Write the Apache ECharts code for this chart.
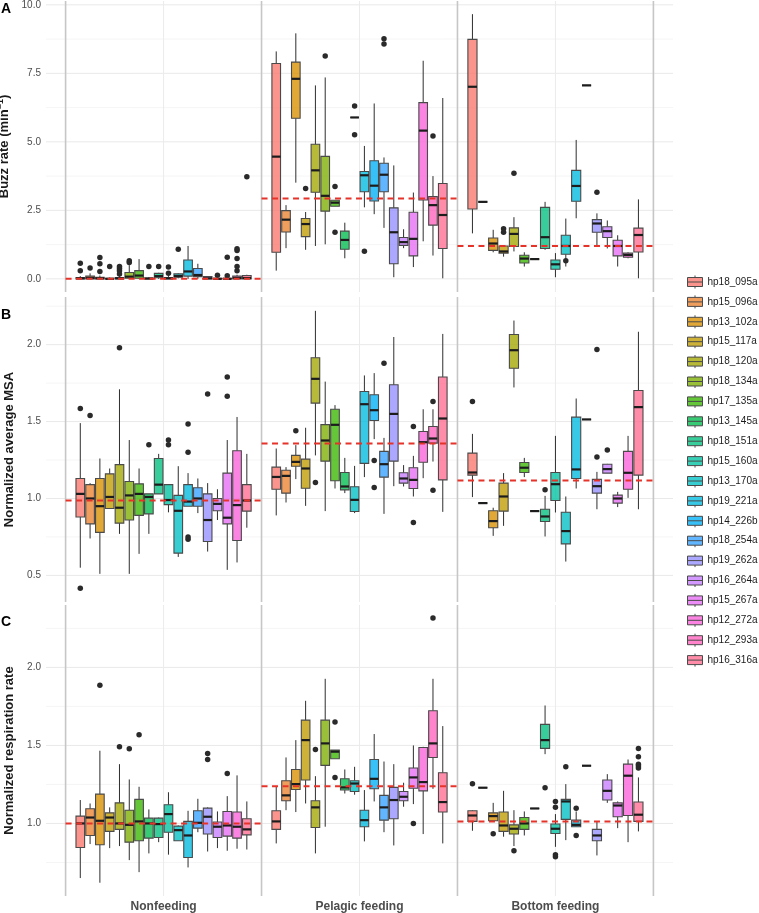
<!DOCTYPE html>
<html><head><meta charset="utf-8">
<script src="https://cdn.jsdelivr.net/npm/echarts@6/dist/echarts.min.js"></script>
<style>html,body{margin:0;padding:0;background:#fff}#c{width:759px;height:913px}</style>
</head><body><div id="c"></div>
<script>
// ---------------- data ----------------
const individuals = ['hp18_095a','hp15_096a','hp13_102a','hp15_117a','hp18_120a','hp18_134a','hp17_135a','hp13_145a','hp18_151a','hp15_160a','hp13_170a','hp19_221a','hp14_226b','hp18_254a','hp19_262a','hp16_264a','hp15_267a','hp12_272a','hp12_293a','hp16_316a'];
const baseColors = ['#F8766D','#EA8331','#D89000','#C09B00','#A3A500','#7CAE00','#39B600','#00BB4E','#00BF7D','#00C1A3','#00BFC4','#00BAE0','#00B0F6','#35A2FF','#9590FF','#C77CFF','#E76BF3','#FA62DB','#FF62BC','#FF6C91'];
const categories = ['Nonfeeding','Pelagic feeding','Bottom feeding'];
// individuals (legend index) present in each category, in dodge order
const presentNonfeeding = [0,1,2,3,4,5,6,7,8,9,10,11,13,14,15,16,17,19];
const presentPelagic    = [0,1,2,3,4,5,6,7,10,11,12,13,14,15,16,17,18,19];
const presentBottom     = [0,1,2,3,4,6,7,8,9,10,11,12,14,15,16,17,19];

// boxes: [lower whisker, Q1, median, Q3, upper whisker]
const buzzNonfeeding = [[0,0,0.02,0.05,0.1],[0,0,0.03,0.1,0.2],[0,0,0.02,0.06,0.12],[0,0,0,0.02,0.05],[0,0,0.02,0.05,0.1],[0,0.02,0.08,0.23,0.5],[0,0.02,0.12,0.3,0.72],[0,0,0.01,0.03,0.06],[0,0.04,0.1,0.2,0.22],[0,0,0.02,0.05,0.1],[0.02,0.06,0.1,0.18,0.2],[0,0.1,0.27,0.69,1.2],[0,0.08,0.14,0.38,0.55],[0,0,0.02,0.08,0.1],[0,0,0,0.02,0.04],[0,0,0,0.02,0.05],[0,0,0.03,0.1,0.15],[0,0,0.03,0.12,0.15]];
const buzzNonfeedingOut = [[0.3,0.57],[0.4],[0.27,0.55,0.78],[0.45],[0.18,0.3,0.38,0.45],[0.6,0.66],[],[0.45],[0.45],[0.2,0.43],[1.08],[],[],[],[0.13],[0.11,0.79],[0.3,0.45,0.74,1.03,1.1],[3.73]];
const buzzPelagic = [[0.30,0.97,4.46,7.86,8.30],[1.12,1.71,2.16,2.49,2.69],[3.51,5.86,7.30,7.91,8.96],[1.06,1.54,2.00,2.20,2.44],[1.20,3.16,3.96,4.91,7.06],[1.26,2.47,3.03,4.47,7.35],[2.65,2.65,2.78,2.87,2.87],[0.75,1.08,1.42,1.74,2.05],[5.89,5.89,5.89,5.89,5.89],[2.61,3.18,3.78,3.92,4.85],[2.36,2.84,3.40,4.31,6.40],[1.86,3.18,3.80,4.22,4.43],[0.06,0.55,1.70,2.59,4.14],[1.12,1.22,1.34,1.51,1.81],[0.43,0.84,1.46,2.43,3.15],[1.37,2.88,5.41,6.43,7.96],[0.85,1.96,2.69,3.00,3.75],[0.02,1.11,2.33,3.48,6.60]];
const buzzPelagicOut = [[],[],[],[3.30],[],[8.13],[1.70,3.37],[],[5.26,6.31],[1.01],[],[8.57,8.76],[],[],[],[],[5.21],[]];
const buzzBottom = [[1.66,2.55,7.01,8.74,9.66],[2.81,2.81,2.81,2.81,2.81],[0.97,1.04,1.29,1.49,1.79],[0.81,0.94,1.00,1.20,1.20],[1.00,1.18,1.64,1.86,2.25],[0.45,0.58,0.74,0.86,0.97],[0.72,0.72,0.72,0.72,0.72],[1.06,1.11,1.52,2.61,2.81],[0.06,0.35,0.53,0.69,0.94],[0.45,0.90,1.20,1.59,2.20],[2.21,2.83,3.39,3.96,5.07],[7.06,7.06,7.06,7.06,7.06],[1.18,1.70,2.02,2.16,2.39],[1.11,1.51,1.74,1.90,2.13],[0.45,0.84,1.20,1.41,1.59],[0.75,0.79,0.87,0.94,0.97],[0.02,0.98,1.60,1.85,2.90]];
const buzzBottomOut = [[],[],[],[1.70,1.83],[3.85],[],[],[],[],[0.66],[],[],[3.16],[],[],[],[]];
const buzzMeans = [0.0, 2.93, 1.20];

const msaNonfeeding = [[0.55,0.88,1.03,1.13,1.49],[0.74,0.835,1.00,1.09,1.10],[0.51,0.78,0.95,1.13,1.26],[0.935,0.935,1.01,1.16,1.195],[0.77,0.84,0.94,1.22,1.71],[0.51,0.86,1.02,1.11,1.38],[0.64,0.89,1.03,1.095,1.195],[0.77,0.90,1.01,1.03,1.03],[1.03,1.03,1.09,1.26,1.29],[0.91,0.96,0.99,1.09,1.09],[0.62,0.645,0.92,1.02,1.21],[0.95,0.95,0.98,1.09,1.165],[0.905,0.95,1.00,1.07,1.13],[0.655,0.72,0.86,1.03,1.10],[0.86,0.92,0.965,1.00,1.06],[0.536,0.835,0.875,1.165,1.38],[0.584,0.727,0.957,1.31,1.53],[0.81,0.918,0.987,1.09,1.29]];
const msaNonfeedingOut = [[0.417,1.585],[1.54],[],[],[1.98],[],[],[1.35],[],[1.35,1.38],[],[0.735,0.75,1.30,1.485],[],[1.68],[],[1.665,1.79],[],[]];
const msaPelagic = [[0.89,1.06,1.14,1.204,1.325],[0.974,1.035,1.147,1.184,1.204],[1.126,1.21,1.238,1.28,1.347],[0.952,1.067,1.195,1.256,1.46],[1.28,1.62,1.778,1.915,2.22],[0.918,1.243,1.377,1.48,1.76],[1.065,1.115,1.479,1.58,1.607],[1.035,1.056,1.078,1.169,1.264],[0.905,0.915,0.991,1.076,1.212],[1.139,1.228,1.613,1.696,1.80],[1.386,1.507,1.574,1.674,1.815],[0.90,1.139,1.223,1.306,1.394],[1.08,1.243,1.55,1.739,2.05],[1.078,1.10,1.13,1.167,1.217],[1.013,1.065,1.121,1.2,1.277],[1.132,1.236,1.366,1.436,1.58],[1.24,1.36,1.39,1.468,1.58],[0.913,1.121,1.52,1.79,2.07]];
const msaPelagicOut = [[],[],[1.44],[],[1.104],[],[],[],[],[],[1.072,1.247],[1.88],[],[],[0.844,1.468],[],[1.054,1.63],[]];
const msaBottom = [[1.009,1.152,1.169,1.295,1.42],[0.97,0.97,0.97,0.97,0.97],[0.757,0.81,0.853,0.92,0.94],[0.822,0.918,1.013,1.10,1.165],[1.722,1.847,1.964,2.066,2.157],[1.139,1.169,1.20,1.234,1.264],[0.918,0.918,0.918,0.918,0.918],[0.753,0.85,0.883,0.93,1.017],[0.909,0.987,1.093,1.169,1.407],[0.59,0.705,0.788,0.911,1.013],[1.065,1.13,1.189,1.529,1.65],[1.514,1.514,1.514,1.514,1.514],[0.93,1.035,1.08,1.124,1.173],[1.165,1.165,1.191,1.223,1.225],[0.944,0.97,1.0,1.022,1.043],[1.004,1.06,1.167,1.306,1.407],[0.93,1.152,1.594,1.702,2.084]];
const msaBottomOut = [[1.63],[],[],[],[],[],[],[1.056],[],[],[],[],[1.269,1.969],[1.316],[],[],[]];
const msaMeans = [0.987, 1.358, 1.117];

const respNonfeeding = [[0.65,0.846,1.0,1.047,1.15],[0.868,0.923,1.038,1.094,1.128],[0.62,0.863,1.017,1.188,1.466],[0.842,0.949,1.038,1.068,1.103],[0.855,0.962,1.0,1.132,1.38],[0.765,0.88,0.991,1.085,1.282],[0.688,0.889,1.013,1.154,1.235],[0.808,0.906,1.0,1.034,1.09],[0.88,0.91,0.996,1.034,1.038],[0.8,0.944,1.06,1.12,1.20],[0.889,0.889,0.957,0.983,0.987],[0.718,0.782,0.923,1.013,1.081],[0.944,0.97,1.004,1.081,1.158],[0.82,0.932,1.043,1.098,1.103],[0.842,0.91,0.979,1.009,1.077],[0.825,0.919,0.987,1.077,1.175],[0.838,0.906,0.979,1.073,1.308],[0.833,0.927,0.962,1.03,1.141]];
const respNonfeedingOut = [[],[],[1.885],[],[1.491],[1.479],[1.568],[],[],[],[],[],[],[1.41,1.449],[],[1.32],[],[]];
const respPelagic = [[0.872,0.962,1.013,1.081,1.235],[1.085,1.145,1.18,1.274,1.423],[1.073,1.218,1.252,1.346,1.534],[1.128,1.278,1.534,1.662,1.786],[0.808,0.974,1.103,1.145,1.303],[0.979,1.372,1.513,1.662,1.927],[1.415,1.415,1.46,1.47,1.47],[1.192,1.214,1.231,1.286,1.346],[1.184,1.205,1.256,1.274,1.363],[0.885,0.979,1.021,1.085,1.214],[1.141,1.222,1.286,1.41,1.573],[0.944,1.021,1.103,1.18,1.397],[0.859,1.03,1.15,1.231,1.38],[1.107,1.145,1.171,1.205,1.261],[1.124,1.226,1.295,1.355,1.5],[0.932,1.209,1.265,1.487,1.491],[1.222,1.423,1.513,1.722,1.927],[0.872,1.073,1.137,1.325,1.624]];
const respPelagicOut = [[],[],[],[],[1.474],[],[1.295,1.65],[],[],[],[],[],[],[],[1.0],[],[2.316],[]];
const respBottom = [[0.953,1.013,1.051,1.081,1.085],[1.229,1.229,1.229,1.229,1.229],[1.017,1.017,1.047,1.068,1.132],[0.915,0.949,0.987,1.073,1.209],[0.855,0.932,0.966,0.991,1.085],[0.923,0.962,1.0,1.038,1.077],[1.096,1.096,1.096,1.096,1.096],[1.444,1.481,1.534,1.635,1.756],[0.85,0.936,0.966,0.996,1.06],[0.893,1.026,1.141,1.154,1.252],[0.979,0.979,0.991,1.021,1.077],[1.37,1.37,1.37,1.37,1.37],[0.795,0.889,0.923,0.962,1.013],[1.132,1.15,1.209,1.278,1.316],[0.97,1.043,1.115,1.132,1.141],[0.88,1.051,1.306,1.38,1.41],[0.949,1.013,1.056,1.137,1.295]];
const respBottomOut = [[1.254],[],[0.934],[],[0.825],[],[],[1.229],[0.786,0.799,1.103,1.141],[1.363],[0.923,1.098],[],[],[],[],[],[1.355,1.368,1.38,1.427,1.481]];
const respMeans = [1.0, 1.239, 1.013];

const buzzTicks = [0, 2.5, 5, 7.5, 10];
const buzzMinor = [1.25, 3.75, 6.25, 8.75];
const msaTicks = [0.5, 1.0, 1.5, 2.0];
const msaMinor = [0.75, 1.25, 1.75, 2.25];
const respTicks = [1.0, 1.5, 2.0];
const respMinor = [0.75, 1.25, 1.75, 2.25];

// ---------------- chart ----------------
const presents = [presentNonfeeding, presentPelagic, presentBottom];
function rgba(hex, a) {
  const n = parseInt(hex.slice(1), 16);
  return 'rgba(' + (n >> 16) + ',' + ((n >> 8) & 255) + ',' + (n & 255) + ',' + a + ')';
}
const fills = baseColors.map(c => rgba(c, 0.78));

const panels = [
  { top: 1, height: 291, min: -0.48, max: 10.14, ticks: buzzTicks, minor: buzzMinor,
    name: '{t|Buzz rate (min}{s|−1}{t|)}',
    boxes: [buzzNonfeeding, buzzPelagic, buzzBottom], outs: [buzzNonfeedingOut, buzzPelagicOut, buzzBottomOut], means: buzzMeans },
  { top: 297, height: 305, min: 0.327, max: 2.31, ticks: msaTicks, minor: msaMinor,
    name: '{t|Normalized average MSA}',
    boxes: [msaNonfeeding, msaPelagic, msaBottom], outs: [msaNonfeedingOut, msaPelagicOut, msaBottomOut], means: msaMeans },
  { top: 605, height: 291, min: 0.535, max: 2.40, ticks: respTicks, minor: respMinor,
    name: '{t|Normalized respiration rate}',
    boxes: [respNonfeeding, respPelagic, respBottom], outs: [respNonfeedingOut, respPelagicOut, respBottomOut], means: respMeans }
];

function renderBox(params, api) {
  const x = api.value(0), w = api.value(6);
  const xl = api.coord([x - w / 2, 1])[0], xr = api.coord([x + w / 2, 1])[0], xc = api.coord([x, 1])[0];
  const y = k => api.coord([x, api.value(k)])[1];
  const yLow = y(1), yQ1 = y(2), yMed = y(3), yQ3 = y(4), yHigh = y(5);
  return { type: 'group', children: [
    { type: 'line', shape: { x1: xc, y1: yQ3, x2: xc, y2: yHigh }, style: { stroke: '#2e2e2e', lineWidth: 1 } },
    { type: 'line', shape: { x1: xc, y1: yQ1, x2: xc, y2: yLow }, style: { stroke: '#2e2e2e', lineWidth: 1 } },
    { type: 'rect', shape: { x: xl, y: yQ3, width: xr - xl, height: yQ1 - yQ3 }, style: { fill: api.visual('color'), stroke: '#4a4a4a', lineWidth: 1.1 } },
    { type: 'line', shape: { x1: xl, y1: yMed, x2: xr, y2: yMed }, style: { stroke: '#1c1c1c', lineWidth: 2.2 } }
  ] };
}
function renderGrid(params, api) {
  const cs = params.coordSys;
  const kind = api.value(0), v = api.value(1);
  if (kind < 2) {
    const yy = api.coord([1, v])[1];
    return { type: 'line', shape: { x1: cs.x, y1: yy, x2: cs.x + cs.width, y2: yy },
      style: { stroke: kind === 0 ? '#E9E9E9' : '#F2F2F2', lineWidth: kind === 0 ? 1 : 0.8 } };
  }
  const xx = api.coord([v, 1])[0];
  return { type: 'line', shape: { x1: xx, y1: cs.y, x2: xx, y2: cs.y + cs.height },
    style: { stroke: kind === 2 ? '#EBEBEB' : '#C6C6C6', lineWidth: kind === 2 ? 1 : 1.6 } };
}
function renderMean(params, api) {
  const c = api.value(0), v = api.value(1);
  const p1 = api.coord([c - 0.5, v]), p2 = api.coord([c + 0.5, v]);
  return { type: 'line', shape: { x1: p1[0], y1: p1[1], x2: p2[0], y2: p2[1] },
    style: { stroke: '#E6332A', lineWidth: 2, lineDash: [6, 4.5] } };
}

const grids = [], xAxes = [], yAxes = [], series = [];
panels.forEach((p, pi) => {
  grids.push({ left: 46, right: 86, top: p.top, height: p.height, containLabel: false, outerBoundsMode: 'none' });
  xAxes.push({ type: 'value', gridIndex: pi, min: 0.4, max: 3.6,
    axisLine: { show: false }, axisTick: { show: false }, splitLine: { show: false },
    axisLabel: pi === 2 ? { customValues: [1, 2, 3], formatter: v => categories[Math.round(v) - 1],
      fontWeight: 'bold', fontSize: 12, color: '#4D4D4D', margin: 5 } : { show: false } });
  yAxes.push({ type: 'value', gridIndex: pi, min: p.min, max: p.max,
    axisLine: { show: false }, axisTick: { show: false }, splitLine: { show: false },
    axisLabel: { customValues: p.ticks, formatter: v => v.toFixed(1), fontSize: 10, color: '#4D4D4D', margin: 5 },
    name: p.name, nameLocation: 'middle', nameGap: 27,
    nameTextStyle: { rich: {
      t: { fontWeight: 'bold', fontSize: 13, color: '#1a1a1a', lineHeight: 15, verticalAlign: 'bottom' },
      s: { fontWeight: 'bold', fontSize: 9, color: '#1a1a1a', lineHeight: 15, verticalAlign: 'top' } } } });

  // gridlines
  const gl = [];
  p.ticks.forEach(v => gl.push([0, v]));
  p.minor.forEach(v => gl.push([1, v]));
  categories.forEach((c, ci) => gl.push([2, ci + 1]));
  for (let k = 0; k <= categories.length; k++) gl.push([3, k + 0.5]);
  series.push({ type: 'custom', xAxisIndex: pi, yAxisIndex: pi, renderItem: renderGrid, data: gl, silent: true, z: 0 });

  // boxes per individual
  individuals.forEach((name, ind) => {
    const data = [];
    presents.forEach((pres, ci) => {
      const slot = pres.indexOf(ind);
      if (slot < 0) return;
      const n = pres.length, sw = 0.9 / n;
      const x = ci + 1 - 0.45 + sw * (slot + 0.5);
      const b = p.boxes[ci][slot];
      data.push([x, b[0], b[1], b[2], b[3], b[4], sw * 0.88]);
    });
    series.push({ type: 'custom', name, xAxisIndex: pi, yAxisIndex: pi, renderItem: renderBox,
      itemStyle: { color: fills[ind] }, data, silent: true, z: 2 });
  });

  // outliers
  const od = [];
  presents.forEach((pres, ci) => {
    const n = pres.length, sw = 0.9 / n;
    pres.forEach((ind, slot) => {
      const x = ci + 1 - 0.45 + sw * (slot + 0.5);
      p.outs[ci][slot].forEach(v => od.push([x, v]));
    });
  });
  series.push({ type: 'scatter', xAxisIndex: pi, yAxisIndex: pi, data: od, symbolSize: 5.5,
    itemStyle: { color: '#2a2a2a', opacity: 1 }, silent: true, z: 3 });

  // group means (red dashed)
  series.push({ type: 'custom', xAxisIndex: pi, yAxisIndex: pi, renderItem: renderMean,
    data: p.means.map((m, ci) => [ci + 1, m]), silent: true, z: 4 });
});

const chart = echarts.init(document.getElementById('c'), null, { renderer: 'canvas' });
chart.setOption({
  animation: false,
  textStyle: { fontFamily: '"Liberation Sans", Arial, Helvetica, sans-serif' },
  grid: grids, xAxis: xAxes, yAxis: yAxes, series,
  legend: { orient: 'vertical', left: 687, top: 275, padding: 0, itemWidth: 15, itemHeight: 13, itemGap: 5.9,
    selectedMode: false, icon: 'path://M0,2H15V11H0Z M7.5,0V2 M7.5,11V13 M0,6.5H15',
    textStyle: { fontSize: 10, color: '#1a1a1a' },
    data: individuals.map((n, i) => ({ name: n, itemStyle: { color: fills[i], borderColor: '#4a4a4a', borderWidth: 1 } })) },
  graphic: [
    { type: 'text', left: 1, top: 2, style: { text: 'A', font: 'bold 14px "Liberation Sans", Arial', fill: '#000' } },
    { type: 'text', left: 1, top: 308, style: { text: 'B', font: 'bold 14px "Liberation Sans", Arial', fill: '#000' } },
    { type: 'text', left: 1, top: 615, style: { text: 'C', font: 'bold 14px "Liberation Sans", Arial', fill: '#000' } }
  ]
});
</script></body></html>
